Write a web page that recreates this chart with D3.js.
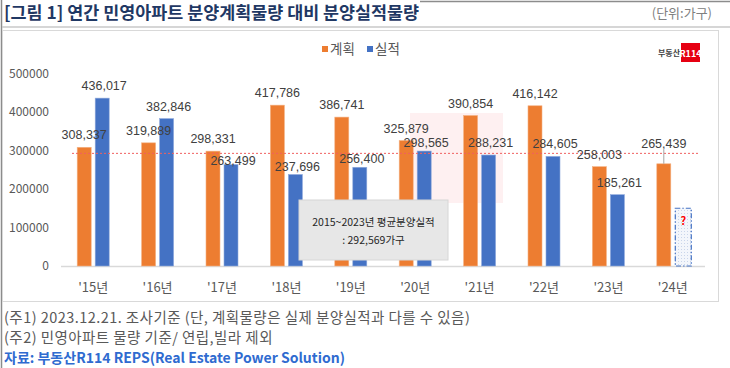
<!DOCTYPE html>
<html><head><meta charset="utf-8">
<script src="https://cdn.jsdelivr.net/npm/d3@7"></script>
<style>
html,body{margin:0;padding:0;background:#fff;}
svg{display:block;font-family:"Noto Sans CJK KR","Noto Sans",sans-serif;}
</style></head>
<body>
<svg id="c" width="730" height="368"></svg>
<script>
const categories = ["'15년","'16년","'17년","'18년","'19년","'20년","'21년","'22년","'23년","'24년"];
const planValues = [308337,319889,298331,417786,386741,325879,390854,416142,258003,265439];
const actualValues = [436017,382846,263499,237696,256400,298565,288231,284605,185261,null];
const averageActual = 292569;
const pendingPlaceholder = 150000;
const yTicks = [0,100000,200000,300000,400000,500000];
const seriesNames = ["계획","실적"];
const titleText = "[그림 1] 연간 민영아파트 분양계획물량 대비 분양실적물량";
const unitText = "(단위:가구)";
const notes = ["(주1) 2023.12.21. 조사기준 (단, 계획물량은 실제 분양실적과 다를 수 있음)","(주2) 민영아파트 물량 기준/ 연립,빌라 제외"];
const sourceText = "자료: 부동산R114 REPS(Real Estate Power Solution)";
const avgBoxLines = ["2015~2023년 평균분양실적", ": 292,569가구"];

const svg = d3.select("#c");
const orange = "#ed7d31", blue = "#4472c4";
const fmt = d3.format(",");
const numFont = "'Liberation Sans','Noto Sans',sans-serif";

// frame
svg.append("line").attr("x1",1.5).attr("x2",1.5).attr("y1",0).attr("y2",368).attr("stroke","#8c8c8c").attr("stroke-width",1.5);
svg.append("line").attr("x1",420).attr("x2",730).attr("y1",1.5).attr("y2",1.5).attr("stroke","#8c8c8c").attr("stroke-width",1.5);
svg.append("line").attr("x1",2).attr("x2",730).attr("y1",27).attr("y2",27).attr("stroke","#c8c8c8").attr("stroke-width",1.5);
svg.append("rect").attr("x",2.5).attr("y",30.5).attr("width",716).attr("height",271).attr("fill","none").attr("stroke","#d9d9d9");

// title
svg.append("text").attr("x",4).attr("y",19).attr("font-size",17.4).attr("font-weight","bold").attr("fill","#1f3864").text(titleText);
svg.append("text").attr("x",712).attr("y",18).attr("text-anchor","end").attr("font-size",13).attr("fill","#808080").text(unitText);

// scales
const x = d3.scaleBand().domain(categories).range([61,705]);
const y = d3.scaleLinear().domain([0,500000]).range([266,73.5]);
const bw = 14, gap = 4;
const cx = c => x(c) + x.bandwidth()/2;

// watermark (logo image in the original)
svg.append("rect").attr("x",410).attr("y",113).attr("width",93).attr("height",90).attr("fill","#e60012").attr("opacity",0.06);

// y axis labels
svg.append("g").selectAll("text").data(yTicks).join("text")
  .attr("x",49).attr("y",d=>y(d)).attr("dy","0.35em").attr("text-anchor","end")
  .attr("font-size",12).attr("fill","#595959").text(d=>d);

// baseline
svg.append("line").attr("x1",61).attr("x2",705).attr("y1",y(0)+0.5).attr("y2",y(0)+0.5).attr("stroke","#d9d9d9").attr("stroke-width",1.5);

// x labels
svg.append("g").selectAll("text").data(categories).join("text")
  .attr("x",d=>cx(d)).attr("y",292).attr("text-anchor","middle")
  .attr("font-size",13).attr("fill","#595959").text(d=>d);

// bars
const rows = categories.map((c,i)=>({c,plan:planValues[i],actual:actualValues[i]}));
svg.append("g").selectAll("rect").data(rows).join("rect")
  .attr("x",d=>cx(d.c)-gap/2-bw).attr("y",d=>y(d.plan)).attr("width",bw).attr("height",d=>y(0)-y(d.plan))
  .attr("fill",orange).attr("stroke","#f4b183").attr("stroke-width",0.6);
svg.append("g").selectAll("rect").data(rows.filter(d=>d.actual!=null)).join("rect")
  .attr("x",d=>cx(d.c)+gap/2).attr("y",d=>y(d.actual)).attr("width",bw).attr("height",d=>y(0)-y(d.actual))
  .attr("fill",blue).attr("stroke","#8faadc").attr("stroke-width",0.6);

// pending placeholder
const defs = svg.append("defs");
const pat = defs.append("pattern").attr("id","dots").attr("width",3).attr("height",3).attr("patternUnits","userSpaceOnUse");
pat.append("rect").attr("width",3).attr("height",3).attr("fill","#f3f6fb");
pat.append("rect").attr("width",1).attr("height",1).attr("fill","#c9d5ea");
rows.filter(d=>d.actual==null).forEach(d=>{
  const px = cx(d.c)+gap/2+0.5;
  svg.append("rect").attr("x",px).attr("y",y(pendingPlaceholder)).attr("width",bw+2).attr("height",y(0)-y(pendingPlaceholder))
    .attr("fill","url(#dots)").attr("stroke",blue).attr("stroke-width",1.2).attr("stroke-dasharray","5,2,1.5,2");
  svg.append("text").attr("x",px+(bw+2)/2).attr("y",y(pendingPlaceholder)+17).attr("text-anchor","middle")
    .attr("font-size",11).attr("font-weight","bold").attr("fill","#ff0000").text("?");
});

// average line
svg.append("line").attr("x1",72).attr("x2",700).attr("y1",y(averageActual)).attr("y2",y(averageActual))
  .attr("stroke","#f06060").attr("stroke-width",1).attr("stroke-dasharray","2,2");

// value labels
const nudge = {"'17년":8,"'18년":5,"'19년":4,"'20년":4};
svg.append("g").selectAll("text").data(rows).join("text")
  .attr("x",d=>cx(d.c)-gap/2-bw/2).attr("y",d=>y(d.plan)-(d.c==="'24년"?16:8))
  .attr("text-anchor","middle").attr("font-family",numFont).attr("font-size",12.5).attr("fill","#404040").text(d=>fmt(d.plan));
svg.append("g").selectAll("text").data(rows.filter(d=>d.actual!=null)).join("text")
  .attr("x",d=>cx(d.c)+gap/2+bw/2+2).attr("y",d=>y(d.actual)-8+(nudge[d.c]||0))
  .attr("text-anchor","middle").attr("font-family",numFont).attr("font-size",12.5).attr("fill","#404040").text(d=>fmt(d.actual));
// leader line for '24
svg.append("line").attr("x1",cx("'24년")-gap/2-bw/2).attr("x2",cx("'24년")-gap/2-bw/2)
  .attr("y1",y(planValues[9])-14).attr("y2",y(planValues[9])).attr("stroke","#a6a6a6").attr("stroke-width",1);

// average box
svg.append("rect").attr("x",299).attr("y",200).attr("width",149).attr("height",60).attr("fill","#e7e7e7").attr("stroke","#d6d6d6");
svg.append("g").selectAll("text").data(avgBoxLines).join("text")
  .attr("x",373.5).attr("y",(d,i)=>226+i*18).attr("text-anchor","middle")
  .attr("font-size",10.5).attr("fill","#262626").text(d=>d);

// legend
const lg = svg.append("g");
[orange,blue].forEach((col,i)=>{
  const lx = 322 + i*45;
  lg.append("rect").attr("x",lx).attr("y",46).attr("width",6).attr("height",6).attr("fill",col);
  lg.append("text").attr("x",lx+8).attr("y",54).attr("font-size",13.5).attr("fill","#595959").text(seriesNames[i]);
});

// logo
svg.append("text").attr("x",680).attr("y",56).attr("text-anchor","end").attr("font-size",8).attr("font-weight","bold").attr("fill","#404040").text("부동산");
svg.append("rect").attr("x",681).attr("y",43).attr("width",19).attr("height",19).attr("fill","#e60012");
svg.append("text").attr("x",690.5).attr("y",56.5).attr("text-anchor","middle").attr("font-size",9).attr("font-weight","bold").attr("fill","#fff").text("R114");

// notes
svg.append("g").selectAll("text").data(notes).join("text")
  .attr("x",4).attr("y",(d,i)=>323+i*20).attr("font-size",14.5).attr("letter-spacing",0.45).attr("fill","#595959").text(d=>d);
svg.append("text").attr("x",4).attr("y",363).attr("font-size",14).attr("font-weight","bold").attr("fill","#2f6bd0").text(sourceText);
</script>
</body></html>
